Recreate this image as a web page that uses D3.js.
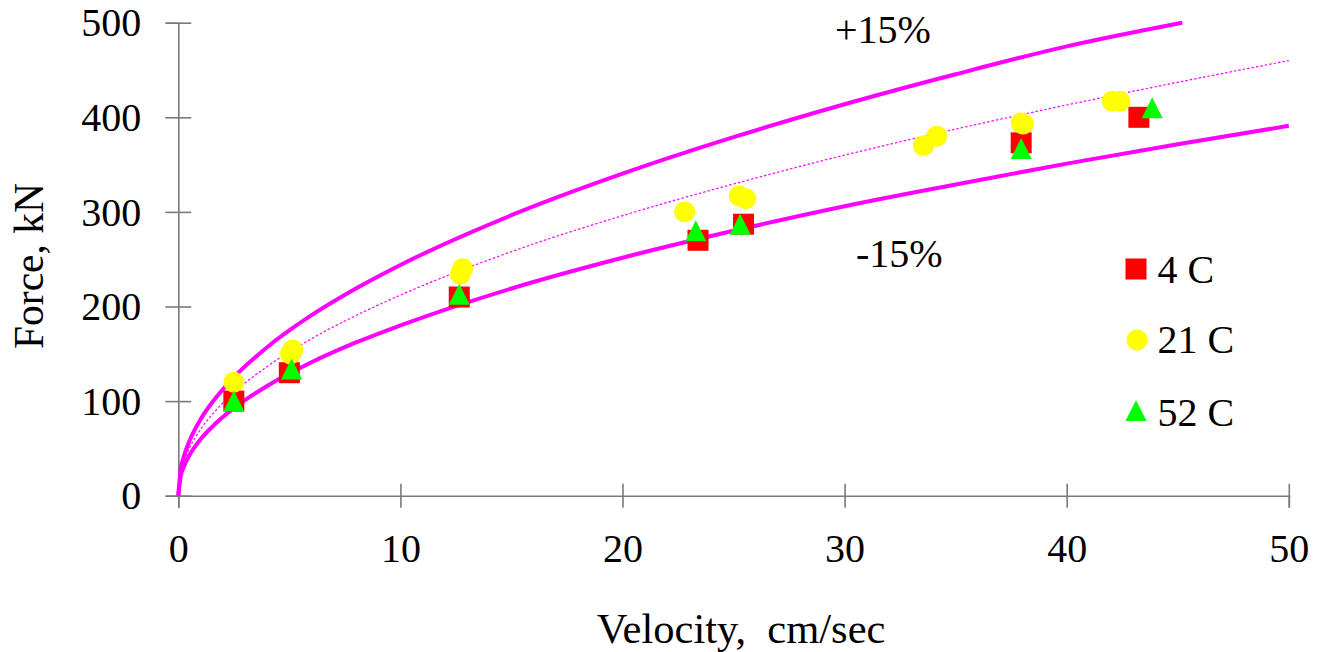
<!DOCTYPE html>
<html>
<head>
<meta charset="utf-8">
<script src="https://cdn.jsdelivr.net/npm/d3@7"></script>
<style>
  html, body { margin: 0; padding: 0; background: #fff; }
  svg { display: block; }
  text { font-family: "Liberation Serif", "Times New Roman", serif; fill: #000; }
</style>
</head>
<body>
<svg id="chart" width="1323" height="652"></svg>
<script>
// ---- data ----
const xTicks = [0, 10, 20, 30, 40, 50];
const yTicks = [0, 100, 200, 300, 400, 500];

const velocity4C = [2.5, 5.0, 12.65, 23.4, 25.45, 37.95, 43.25];
const force4C    = [100, 130, 210, 270, 287, 373, 400];

const velocity21C = [2.5, 5.05, 5.15, 12.7, 12.8, 22.8, 25.25, 25.55, 33.55, 34.15, 37.95, 38.05, 42.05, 42.4];
const force21C    = [120, 150, 154, 234, 240, 300, 317, 314, 370, 380, 394, 393, 417, 417];

const velocity52C = [2.5, 5.1, 12.65, 23.3, 25.3, 37.95, 43.85];
const force52C    = [100, 134, 213, 280, 287, 367, 410];

// fitted trend curve and +/-15% bands
const curveV      = [0, 0.1, 0.25, 0.5, 1, 1.5, 2.5, 4, 6, 8, 10, 15, 20, 25, 30, 35, 40, 45, 50];
const centerF     = [0, 23, 36, 50, 70, 85, 109, 136.5, 166, 190.5, 212, 258, 296, 329.5, 360, 387.5, 413, 437, 460];
const lowerF      = [0, 19.6, 30.6, 42.7, 59.6, 72.3, 92.6, 116, 141, 162, 180, 219, 251.5, 280, 306, 329, 351, 371.5, 391];
const upperV      = [0, 0.1, 0.25, 0.5, 1, 1.5, 2.5, 4, 6, 8, 10, 15, 20, 25, 30, 35, 40, 45.2];
const upperF      = [0, 26.6, 41.4, 57.7, 80.6, 97.9, 125.2, 157, 190.8, 219, 243.9, 296.5, 340.4, 379, 413.8, 445.5, 475, 500];

const seriesNames = ["4 C", "21 C", "52 C"];
const bandLabels  = ["+15%", "-15%"];
const xTitle = "Velocity,  cm/sec";
const yTitle = "Force, kN";

// ---- drawing ----
const svg = d3.select("#chart");
const x = d3.scaleLinear().domain([0, 50]).range([178.3, 1288.8]);
const y = d3.scaleLinear().domain([0, 500]).range([495.7, 22.7]);
const axisColor = "#7a7a7a";
const fontSize = 40;

// axes
const xAxis = svg.append("g").attr("transform", `translate(0,${y(0)})`)
  .call(d3.axisBottom(x).tickValues(xTicks).tickSizeOuter(0).tickSize(12).tickFormat(d3.format("d")));
xAxis.selectAll(".tick line").attr("y1", -12).attr("y2", 12);
xAxis.selectAll(".tick text").attr("y", 66).attr("dy", 0)
  .style("font-size", fontSize + "px").style("font-family", "Liberation Serif");

const yAxis = svg.append("g").attr("transform", `translate(${x(0)},0)`)
  .call(d3.axisLeft(y).tickValues(yTicks).tickSizeOuter(0).tickSize(12).tickFormat(d3.format("d")));
yAxis.selectAll(".tick line").attr("x1", -13).attr("x2", 13);
yAxis.selectAll(".tick text").attr("x", -37).attr("dy", "0.33em")
  .style("font-size", fontSize + "px").style("font-family", "Liberation Serif");

[xAxis, yAxis].forEach(a => {
  a.select(".domain").attr("stroke", axisColor).attr("stroke-width", 1.6);
  a.selectAll(".tick line").attr("stroke", axisColor).attr("stroke-width", 1.6);
  a.selectAll(".tick text").attr("fill", "#000");
});

// titles
svg.append("text").attr("x", 741).attr("y", 643).attr("text-anchor", "middle")
  .style("font-size", "42.5px").style("white-space", "pre").attr("xml:space", "preserve").text(xTitle);
svg.append("text").attr("transform", "translate(43,266) rotate(-90)").attr("text-anchor", "middle")
  .style("font-size", "41.5px").text(yTitle);

// curves
const line = d3.line().x(d => x(d[0])).y(d => y(d[1])).curve(d3.curveMonotoneX);
const magenta = "#ff00ff";
svg.append("path").datum(curveV.map((v, i) => [v, centerF[i]]))
  .attr("d", line).attr("fill", "none").attr("stroke", magenta)
  .attr("stroke-width", 1.2).attr("stroke-dasharray", "2.5,2");
svg.append("path").datum(upperV.map((v, i) => [v, upperF[i]]))
  .attr("d", line).attr("fill", "none").attr("stroke", magenta).attr("stroke-width", 4);
svg.append("path").datum(curveV.map((v, i) => [v, lowerF[i]]))
  .attr("d", line).attr("fill", "none").attr("stroke", magenta).attr("stroke-width", 4);

// band labels
svg.append("text").attr("x", 835).attr("y", 43).style("font-size", fontSize + "px").text(bandLabels[0]);
svg.append("text").attr("x", 856).attr("y", 267).style("font-size", fontSize + "px").text(bandLabels[1]);

// markers
const S = 21;
function square(g, cx, cy) {
  g.append("rect").attr("x", cx - S / 2).attr("y", cy - S / 2).attr("width", S).attr("height", S).attr("fill", "#ff0000");
}
function circle(g, cx, cy) {
  g.append("circle").attr("cx", cx).attr("cy", cy).attr("r", S / 2).attr("fill", "#ffff00");
}
function triangle(g, cx, cy) {
  g.append("path").attr("d", `M${cx},${cy - S / 2}L${cx + S / 2},${cy + S / 2}L${cx - S / 2},${cy + S / 2}Z`).attr("fill", "#00ff00");
}
const pts = svg.append("g");
velocity4C.forEach((v, i) => square(pts, x(v), y(force4C[i])));
velocity21C.forEach((v, i) => circle(pts, x(v), y(force21C[i])));
velocity52C.forEach((v, i) => triangle(pts, x(v), y(force52C[i])));

// legend
const leg = svg.append("g");
const legY = [269, 340, 410.5];
const legBase = [282.7, 353.3, 426];
square(leg, 1136, legY[0]);
circle(leg, 1137, legY[1]);
triangle(leg, 1136, legY[2]);
seriesNames.forEach((s, i) => {
  leg.append("text").attr("x", 1157.5).attr("y", legBase[i]).style("font-size", fontSize + "px").text(s);
});
</script>
</body>
</html>
